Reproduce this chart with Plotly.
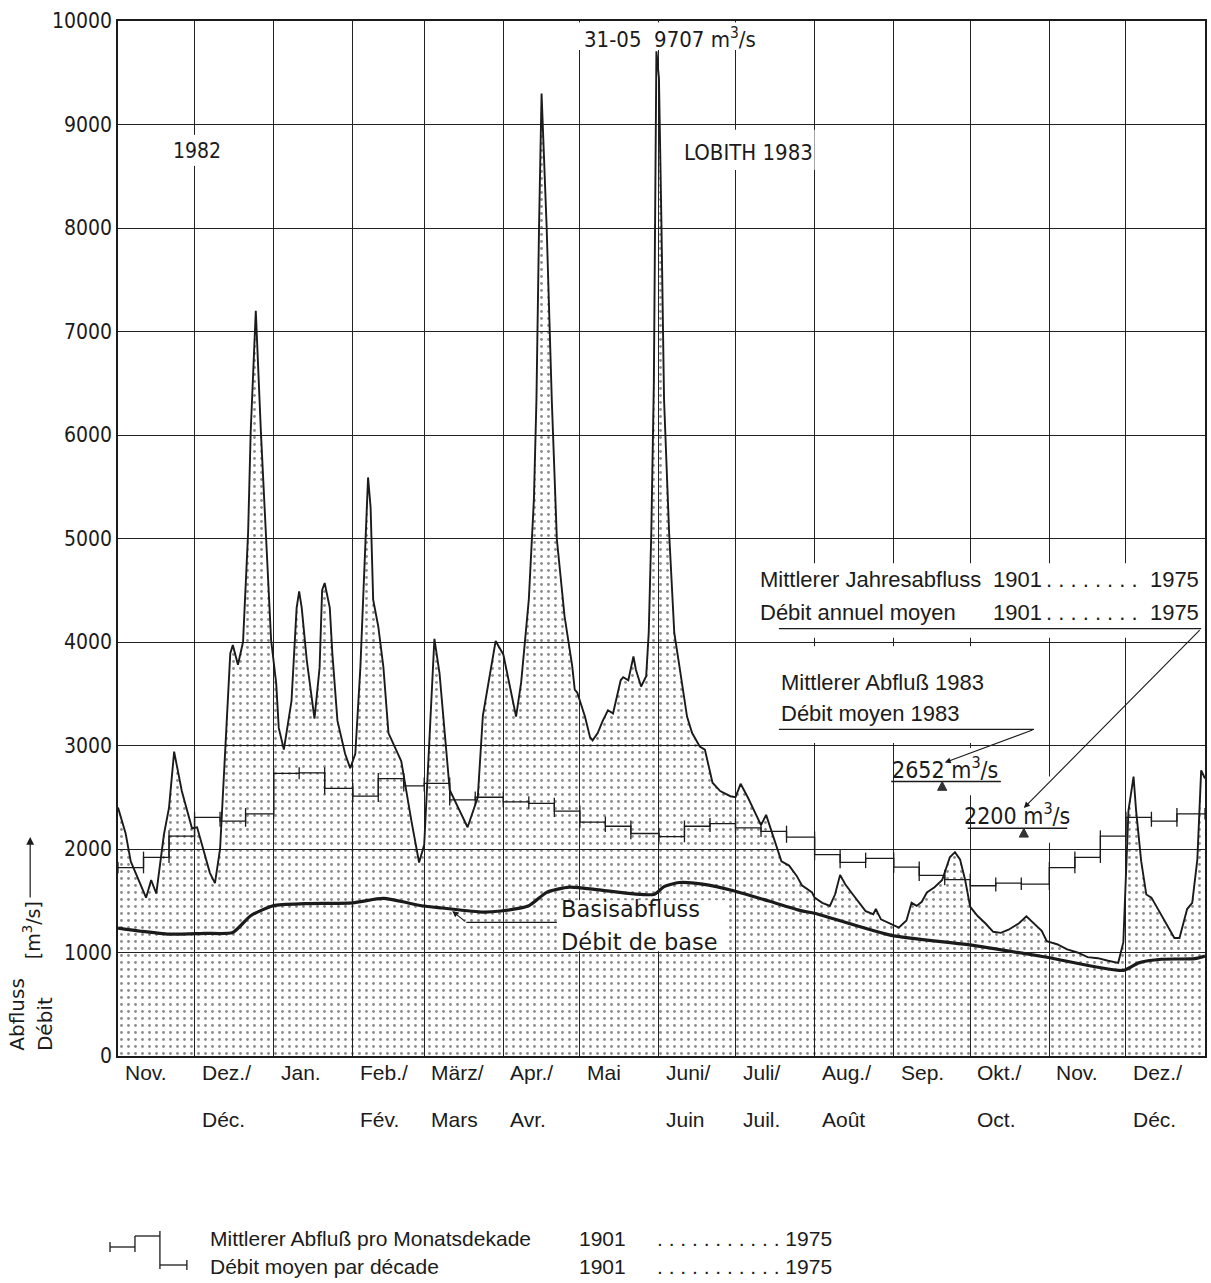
import pandas as pd
import plotly.graph_objects as go

# Daily discharge of the Rhine at Lobith, Nov 1982 - Dec 1983 (m3/s)
flow_dates = [
    "1982-11-01", "1982-11-04", "1982-11-06", "1982-11-12", "1982-11-14", "1982-11-16",
    "1982-11-19", "1982-11-21", "1982-11-23", "1982-11-26", "1982-11-30",
    "1982-12-02", "1982-12-07", "1982-12-09", "1982-12-11", "1982-12-13", "1982-12-15",
    "1982-12-16", "1982-12-18", "1982-12-20", "1982-12-22", "1982-12-23", "1982-12-25",
    "1982-12-27", "1982-12-29", "1982-12-31",
    "1983-01-02", "1983-01-03", "1983-01-05", "1983-01-08", "1983-01-10", "1983-01-11",
    "1983-01-12", "1983-01-14", "1983-01-17", "1983-01-19", "1983-01-20", "1983-01-21",
    "1983-01-23", "1983-01-24", "1983-01-26", "1983-01-29", "1983-01-31",
    "1983-02-02", "1983-02-04", "1983-02-06", "1983-02-07", "1983-02-08", "1983-02-09",
    "1983-02-11", "1983-02-13", "1983-02-15", "1983-02-20", "1983-02-24", "1983-02-27",
    "1983-03-01", "1983-03-03", "1983-03-05", "1983-03-07", "1983-03-09", "1983-03-11",
    "1983-03-18", "1983-03-22", "1983-03-24", "1983-03-28", "1983-03-29",
    "1983-04-01", "1983-04-04", "1983-04-06", "1983-04-08", "1983-04-11", "1983-04-13",
    "1983-04-14", "1983-04-15", "1983-04-16", "1983-04-18", "1983-04-20", "1983-04-22",
    "1983-04-25", "1983-04-28", "1983-04-29", "1983-04-30",
    "1983-05-03", "1983-05-05", "1983-05-06", "1983-05-08", "1983-05-10", "1983-05-12",
    "1983-05-14", "1983-05-17", "1983-05-18", "1983-05-20", "1983-05-22", "1983-05-23",
    "1983-05-25", "1983-05-27", "1983-05-28", "1983-05-29", "1983-05-30", "1983-05-31",
    "1983-06-01", "1983-06-02", "1983-06-03", "1983-06-05", "1983-06-07", "1983-06-09",
    "1983-06-12", "1983-06-14", "1983-06-17", "1983-06-19", "1983-06-22", "1983-06-25",
    "1983-06-29",
    "1983-07-01", "1983-07-03", "1983-07-06", "1983-07-09", "1983-07-11", "1983-07-13",
    "1983-07-15", "1983-07-17", "1983-07-19", "1983-07-22", "1983-07-25", "1983-07-27",
    "1983-07-31",
    "1983-08-01", "1983-08-04", "1983-08-07", "1983-08-09", "1983-08-11", "1983-08-13",
    "1983-08-16", "1983-08-19", "1983-08-21", "1983-08-24", "1983-08-25", "1983-08-27",
    "1983-08-31",
    "1983-09-03", "1983-09-06", "1983-09-08", "1983-09-10", "1983-09-12", "1983-09-14",
    "1983-09-17", "1983-09-20", "1983-09-23", "1983-09-25", "1983-09-27", "1983-09-29",
    "1983-10-01", "1983-10-04", "1983-10-07", "1983-10-10", "1983-10-13", "1983-10-16",
    "1983-10-20", "1983-10-23", "1983-10-26", "1983-10-29", "1983-10-31",
    "1983-11-04", "1983-11-08", "1983-11-12", "1983-11-16", "1983-11-20", "1983-11-24",
    "1983-11-28", "1983-11-30",
    "1983-12-01", "1983-12-02", "1983-12-04", "1983-12-05", "1983-12-07", "1983-12-09",
    "1983-12-11", "1983-12-14", "1983-12-17", "1983-12-20", "1983-12-22", "1983-12-25",
    "1983-12-27", "1983-12-29", "1983-12-30 12:00", "1984-01-01",
]
flow_values = [
    2400, 2150, 1880, 1530, 1700, 1570, 2140, 2400, 2940, 2560, 2200,
    2210, 1770, 1670, 2000, 3000, 3890, 3970, 3780, 4000, 5060, 6030, 7200, 6030, 4990, 4020,
    3600, 3170, 2960, 3430, 4330, 4490, 4330, 3820, 3260, 3750, 4500, 4570, 4330, 3890,
    3240, 2920, 2780,
    2920, 3760, 5060, 5590, 5300, 4410, 4150, 3760, 3120, 2850, 2270, 1870,
    2040, 3000, 4030, 3700, 3120, 2570, 2210, 2500, 3290, 3840, 4010,
    3880, 3510, 3280, 3610, 4410, 5380, 6350, 8000, 9300, 8000, 6340, 4990, 4250, 3770,
    3540, 3510,
    3280, 3080, 3050, 3120, 3240, 3340, 3310, 3630, 3660, 3630, 3860, 3730, 3570, 3670,
    4090, 5050, 6500, 9707,
    9450, 8000, 6340, 5050, 4090, 3770, 3280, 3120, 2990, 2960, 2640, 2560, 2510,
    2500, 2630, 2490, 2330, 2230, 2330, 2180, 2010, 1880, 1840, 1740, 1650, 1580,
    1530, 1480, 1450, 1560, 1750, 1660, 1560, 1460, 1400, 1370, 1420, 1320, 1270,
    1240, 1310, 1480, 1450, 1490, 1580, 1630, 1700, 1920, 1970, 1900, 1700,
    1440, 1350, 1280, 1200, 1190, 1220, 1280, 1350, 1280, 1210, 1110,
    1080, 1030, 1000, 955, 945, 920, 900, 1100,
    1740, 2370, 2700, 2370, 1880, 1560, 1530, 1400, 1270, 1140, 1140, 1420, 1480, 1900,
    2760, 2680,
]

# Base flow (Basisabfluss / Debit de base)
base_dates = [
    "1982-11-01", "1982-11-10", "1982-11-21", "1982-12-05", "1982-12-16", "1982-12-23",
    "1983-01-01", "1983-01-13", "1983-02-01", "1983-02-13", "1983-02-28", "1983-03-08",
    "1983-03-24", "1983-03-31", "1983-04-11", "1983-04-18", "1983-04-27", "1983-05-10",
    "1983-05-30", "1983-06-03", "1983-06-09", "1983-06-18", "1983-07-01", "1983-07-14",
    "1983-07-27", "1983-08-01", "1983-08-31", "1983-09-30", "1983-10-31", "1983-11-30",
    "1983-12-06", "1983-12-15", "1983-12-28", "1984-01-01",
]
base_values = [
    1235, 1205, 1177, 1185, 1193, 1355, 1453, 1472, 1480, 1522, 1452, 1430,
    1390, 1401, 1451, 1581, 1632, 1600, 1561, 1637, 1676, 1661, 1592, 1497,
    1402, 1379, 1166, 1076, 954, 827, 900, 935, 940, 965,
]

# Mean discharge per ten-day period (Monatsdekade), 1901-1975, Nov 1982 .. Dec 1983
decade_means = [
    1820, 1920, 2125,   # Nov
    2305, 2270, 2340,   # Dec
    2730, 2735, 2585,   # Jan
    2510, 2680, 2610,   # Feb
    2635, 2475, 2500,   # Mar
    2455, 2440, 2365,   # Apr
    2260, 2220, 2150,   # May
    2120, 2220, 2245,   # Jun
    2205, 2170, 2115,   # Jul
    1945, 1870, 1910,   # Aug
    1825, 1745, 1705,   # Sep
    1645, 1670, 1660,   # Oct
    1820, 1920, 2125,   # Nov
    2305, 2270, 2340,   # Dec
]

annual_mean_1901_1975 = 2200
mean_1983 = 2652
peak_date = "1983-05-31"
peak_value = 9707

months_de = ["Nov.", "Dez./", "Jan.", "Feb./", "März/", "Apr./", "Mai", "Juni/",
             "Juli/", "Aug./", "Sep.", "Okt./", "Nov.", "Dez./"]
months_fr = ["", "Déc.", "", "Fév.", "Mars", "Avr.", "", "Juin",
             "Juil.", "Août", "", "Oct.", "", "Déc."]

# ---------------------------------------------------------------------------
START = pd.Timestamp("1982-11-01")
END = pd.Timestamp("1984-01-01")
INK = "#1b1b1b"
ISO = "DejaVu Sans Condensed, DejaVu Sans, sans-serif"
ISO_W = "DejaVu Sans, sans-serif"
HELV = "Liberation Sans, Arial, sans-serif"
DAY = pd.Timedelta(days=1)

fig = go.Figure()

# daily discharge, stippled down to zero
fig.add_trace(go.Scatter(
    x=flow_dates, y=flow_values, mode="lines",
    line=dict(color=INK, width=1.9),
    fill="tozeroy", fillcolor="rgba(0,0,0,0)",
    fillpattern=dict(shape=".", fgcolor="#1a1a1a", bgcolor="rgba(0,0,0,0)",
                     size=7, solidity=0.13),
    hoverinfo="skip",
))

# ten-day means as a step line with short connectors at each period boundary
month_starts = pd.date_range(START, END - DAY, freq="MS")
edges = [m + pd.Timedelta(days=d) for m in month_starts for d in (0, 10, 20)] + [END]
fig.add_trace(go.Scatter(
    x=edges, y=decade_means + [decade_means[-1]], mode="lines",
    line=dict(shape="hv", color=INK, width=1.3), hoverinfo="skip",
))
tick_x, tick_y = [], []
for i, e in enumerate(edges):
    lv = [decade_means[j] for j in (i - 1, i) if 0 <= j < len(decade_means)]
    tick_x += [e, e, None]
    tick_y += [min(lv) - 55, max(lv) + 55, None]
fig.add_trace(go.Scatter(x=tick_x, y=tick_y, mode="lines",
                         line=dict(color=INK, width=1.3), hoverinfo="skip"))

# base flow
fig.add_trace(go.Scatter(
    x=base_dates, y=base_values, mode="lines",
    line=dict(color=INK, width=3.2, shape="spline", smoothing=0.6), hoverinfo="skip",
))

# mean-value markers: small filled triangles hanging under the underline
tri_x, tri_y = [], []
for d, v in (("1983-09-20", mean_1983), ("1983-10-22", annual_mean_1901_1975)):
    c = pd.Timestamp(d)
    tri_x += [c - 1.8 * DAY, c, c + 1.8 * DAY, c - 1.8 * DAY, None]
    tri_y += [v - 85, v, v - 85, v - 85, None]
fig.add_trace(go.Scatter(x=tri_x, y=tri_y, mode="lines", fill="toself",
                         fillcolor="#333333", line=dict(color="#333333", width=1),
                         hoverinfo="skip"))

shapes = []
# white patches that break the grid behind the text blocks
for x0, x1, y0, y1 in [
    ("1982-11-28", "1982-12-06", 8600, 8900),
    ("1983-06-08", "1983-08-01", 8560, 8950),
    ("1983-04-28", "1983-07-12", 9720, 9985),
    ("1983-07-20", "1983-12-29", 4040, 4760),
    ("1983-07-20", "1983-10-05", 3025, 3960),
    ("1983-09-27", "1983-10-05", 2520, 2975),
    ("1983-10-29", "1983-11-04", 2060, 2700),
]:
    shapes.append(dict(type="rect", xref="x", yref="y", x0=x0, x1=x1, y0=y0, y1=y1,
                       fillcolor="white", line=dict(width=0), layer="between"))
# clear panel behind the base-flow caption
shapes.append(dict(type="rect", xref="x", yref="y", x0="1983-04-22", x1="1983-06-27",
                   y0=1012, y1=1505, fillcolor="white", line=dict(width=0),
                   layer="above"))


def hline(x0, x1, y, width=1.2):
    shapes.append(dict(type="line", xref="x", yref="y", x0=x0, x1=x1, y0=y, y1=y,
                       line=dict(color=INK, width=width)))


hline("1983-07-18", "1983-12-30 12:00", 4130)
hline("1983-07-18", "1983-10-26", 3155)
hline("1983-08-31", "1983-10-13", mean_1983, 1.6)
hline("1983-09-30", "1983-11-08", annual_mean_1901_1975, 1.6)
hline("1983-03-17 12:00", "1983-04-22", 1291, 1.1)

ann = []


def text(t, x, y, font=HELV, size=22, xanchor="left", yanchor="middle", **kw):
    d = dict(text=t, x=x, y=y, xref=kw.pop("xref", "x"), yref=kw.pop("yref", "y"),
             showarrow=False, xanchor=xanchor, yanchor=yanchor,
             font=dict(family=font, size=size, color=INK))
    d.update(kw)
    ann.append(d)


def arrow(x, y, ax, ay):
    ann.append(dict(x=x, y=y, ax=ax, ay=ay, xref="x", yref="y", axref="x", ayref="y",
                    text="", showarrow=True, arrowhead=2, arrowsize=1.1,
                    arrowwidth=1.1, arrowcolor=INK))


text("1982", "1982-12-02", 8745, font=ISO, size=21, xanchor="center")
text("LOBITH 1983", "1983-06-10", 8734, font=ISO, size=22)
text(f"31-05\u00a0\u00a0{peak_value}\u00a0m<sup>3</sup>/s", "1983-05-02", 9840, font=ISO, size=22)

nb = "\u00a0"
dots8 = (". " * 8).replace(" ", nb)
text("Mittlerer Jahresabfluss", "1983-07-10", 4600)
text("1901", "1983-10-09", 4600)
text(dots8 + nb + "1975", "1983-12-30 12:00", 4600, xanchor="right")
text("Débit annuel moyen", "1983-07-10", 4281)
text("1901", "1983-10-09", 4281)
text(dots8 + nb + "1975", "1983-12-30 12:00", 4281, xanchor="right")
arrow("1983-10-22", 2396, "1983-12-30 12:00", 4130)

text("Mittlerer Abfluß 1983", "1983-07-18", 3606)
text("Débit moyen 1983", "1983-07-18", 3306)
arrow("1983-09-21", 2835, "1983-10-26", 3155)

text(f"{mean_1983}\u00a0m<sup>3</sup>/s", "1983-09-21", mean_1983, font=ISO, size=23,
     xanchor="center", yanchor="bottom", yshift=-3)
text(f"{annual_mean_1901_1975}\u00a0m<sup>3</sup>/s", "1983-10-19 12:00",
     annual_mean_1901_1975, font=ISO, size=23, xanchor="center", yanchor="bottom",
     yshift=-3)

text("Basisabfluss", "1983-04-23", 1424, font=ISO_W, size=22.5)
text("Débit de base", "1983-04-23", 1105, font=ISO_W, size=22.5)
arrow("1983-03-12", 1400, "1983-03-17 12:00", 1291)

# month labels, German above French
for m, de, fr in zip(month_starts, months_de, months_fr):
    text(de, m, -0.0164, yref="paper", size=21, xshift=5)
    if fr:
        text(fr, m, -0.0618, yref="paper", size=21, xshift=5)

# rotated axis title
text("Abfluss", -0.0927, 0.003, xref="paper", yref="paper", font=ISO_W, size=20,
     xanchor="center", yanchor="bottom", textangle=-90)
text("Débit", -0.067, 0.003, xref="paper", yref="paper", font=ISO_W, size=20,
     xanchor="center", yanchor="bottom", textangle=-90)
text("[m<sup>3</sup>/s]", -0.079, 0.1217, xref="paper", yref="paper", font=ISO_W,
     size=19, xanchor="center", yanchor="middle", textangle=-90)
ann.append(dict(x=-0.0808, y=0.2116, xref="paper", yref="paper", ax=0, ay=62,
                text="", showarrow=True, arrowhead=2, arrowsize=1.3, arrowwidth=1.2,
                arrowcolor=INK))


# legend for the ten-day means, drawn under the chart
def px(x):
    return (x - 118) / 1089


def py(y):
    return (1056 - y) / 1035


leg = [(110, 1247, 135, 1247), (135, 1236, 160, 1236), (160, 1265, 187, 1265),
       (135, 1236, 135, 1252), (160, 1231, 160, 1269),
       (110, 1242, 110, 1252), (187, 1260, 187, 1270)]
for x0, y0, x1, y1 in leg:
    shapes.append(dict(type="line", xref="paper", yref="paper", x0=px(x0), x1=px(x1),
                       y0=py(y0), y1=py(y1), line=dict(color=INK, width=1.3)))
dots11 = (". " * 11).replace(" ", nb)
for label, yy in (("Mittlerer Abfluß pro Monatsdekade", 1238),
                  ("Débit moyen par décade", 1266)):
    text(label, px(208), py(yy), xref="paper", yref="paper", size=21)
    text("1901", px(578), py(yy), xref="paper", yref="paper", size=21)
    text(dots11 + "1975", px(835), py(yy), xref="paper", yref="paper", size=21,
         xanchor="right")

fig.update_layout(
    width=1211, height=1283,
    margin=dict(l=118, r=4, t=21, b=227),
    paper_bgcolor="white", plot_bgcolor="white",
    showlegend=False,
    shapes=shapes, annotations=ann,
    xaxis=dict(type="date", range=[START, END], tick0="1982-11-01", dtick="M1",
               showgrid=True, gridcolor="#222222", gridwidth=1,
               showticklabels=False, ticks="", zeroline=False,
               showline=True, linecolor=INK, linewidth=1.5, mirror=True),
    yaxis=dict(range=[0, 10000], dtick=1000, tickformat="d",
               showgrid=True, gridcolor="#222222", gridwidth=1,
               ticks="", zeroline=False, ticklabelstandoff=0,
               tickfont=dict(family=ISO, size=21, color=INK),
               showline=True, linecolor=INK, linewidth=1.5, mirror=True),
)

fig.write_html("out.html")
